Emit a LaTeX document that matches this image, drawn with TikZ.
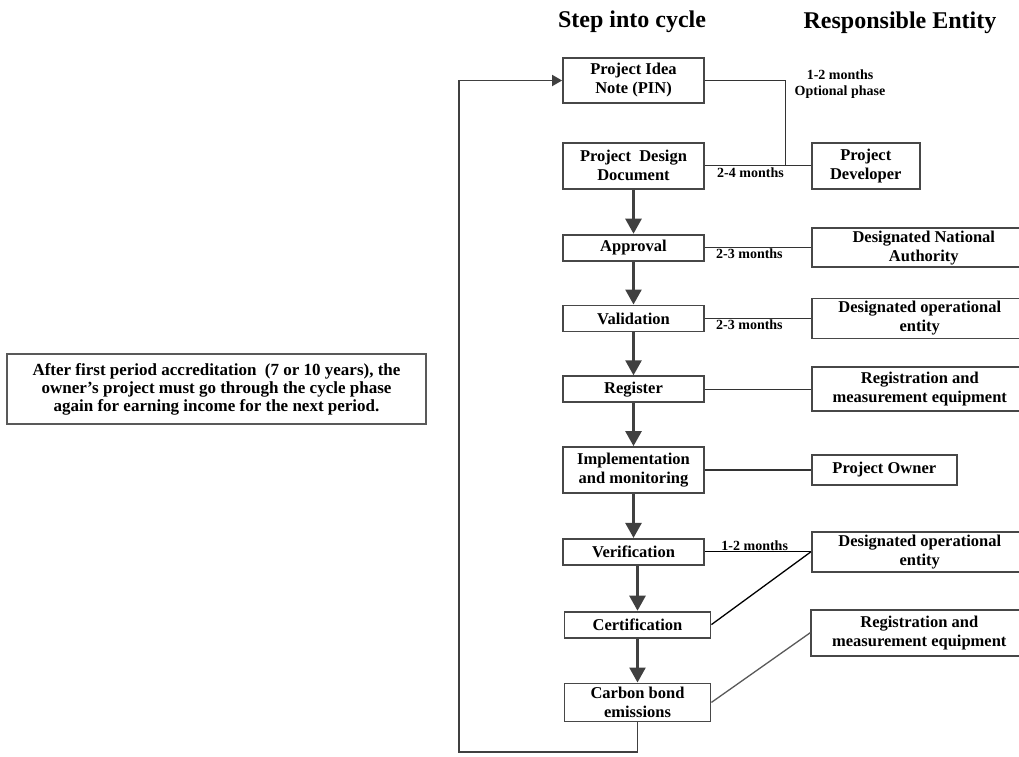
\documentclass[tikz,border=0pt]{standalone}
\usepackage{fontspec}
\setmainfont{Liberation Serif}
\usetikzlibrary{arrows.meta,positioning,calc}

\begin{document}
\begin{tikzpicture}[
    x=1pt, y=-1pt,
    node distance=43pt and 106pt,
    stepbox/.style={draw=black!72, line width=1.8pt, align=center, minimum width=141pt, minimum height=26pt, inner sep=2pt, font=\bfseries\fontsize{16.5}{19}\selectfont},
    entitybox/.style={stepbox, minimum width=216pt},
    headtext/.style={font=\bfseries\fontsize{24}{28}\selectfont},
    lbl/.style={font=\bfseries\fontsize{14}{15.5}\selectfont, inner sep=1pt, align=center},
    arrow/.style={-{Triangle[width=16pt,length=15pt]}, line width=2.6pt, draw=black!75},
    link/.style={line width=1.3pt, draw=black!80},
    loopline/.style={-{Triangle[width=11pt,length=10pt]}, line width=1.8pt, draw=black!75}
]
\useasboundingbox (0,0) rectangle (1019,756);
\clip (0,0) rectangle (1019,756);
\node[headtext] (hstep) at (632,22) {Step into cycle};
\node[headtext] (hentity) at (900,23) {Responsible Entity};
% cycle steps
\node[stepbox, minimum height=45pt] (pin) at (633.5,80.5) {Project Idea\\Note (PIN)};
\node[stepbox, minimum height=46pt, below=38pt of pin] (pdd) {Project~ Design\\Document};
\node[stepbox, below=44pt of pdd] (approval) {Approval};
\node[stepbox, below=of approval] (valid) {Validation};
\node[stepbox, below=of valid] (register) {Register};
\node[stepbox, minimum height=46pt, below=of register] (implement) {Implementation\\and monitoring};
\node[stepbox, below=44pt of implement] (verif) {Verification};
\node[stepbox, minimum width=146pt, below=45pt of verif, xshift=4pt] (cert) {Certification};
\node[stepbox, minimum width=146pt, minimum height=38pt, below=44pt of cert] (carbon) {Carbon bond\\emissions};
% responsible entities
\node[stepbox, minimum width=108pt, minimum height=46pt, right=of pdd] (developer) {Project\\Developer};
\node[entitybox, minimum width=224pt, minimum height=39pt, right=of approval] (dna) {Designated National\\Authority};
\node[entitybox, minimum height=40pt, right=of valid] (doe) {Designated operational\\entity};
\node[entitybox, minimum height=44pt, right=of register] (regequip) {Registration and\\measurement equipment};
\node[stepbox, minimum width=145pt, minimum height=30pt, right=of implement] (owner) {Project Owner};
\node[entitybox, minimum height=40pt, right=of verif] (doeverif) {Designated operational\\entity};
\node[entitybox, minimum height=46pt, right=99pt of cert, yshift=-8pt] (regcarbon) {Registration and\\measurement equipment};
\node[stepbox, draw=black!65, minimum width=419pt, minimum height=70pt, font=\bfseries\fontsize{17}{18}\selectfont] (note) at (216.5,389) {After first period accreditation~ (7 or 10 years), the\\owner's project must go through the cycle phase\\again for earning income for the next period.};
% flow
\draw[arrow] (pdd) -- (approval);
\draw[arrow] (approval) -- (valid);
\draw[arrow] (valid) -- (register);
\draw[arrow] (register) -- (implement);
\draw[arrow] (implement) -- (verif);
\draw[arrow] (verif.south -| cert.north) -- (cert.north);
\draw[arrow] (cert) -- (carbon);
\coordinate (lowturn) at (459,752);
\draw[loopline] (carbon.south) |- (lowturn) |- (pin.west);
% links to entities
\draw[link] (pin.east) -| ($(pdd.east)!.76!(developer.west)$);
\node[lbl] (lblpin) at (840,84) {1-2 months\\Optional phase};
\draw[link] (pdd.east) -- node[lbl, below, pos=.43] (lblpdd) {2-4 months} (developer.west);
\draw[link] (approval.east) -- node[lbl, below, pos=.42] (lblappr) {2-3 months} (dna.west);
\draw[link] (valid.east) -- node[lbl, below, pos=.42] (lblvalid) {2-3 months} (doe.west);
\draw[link] (register.east) -- (regequip.west);
\draw[link] (implement.east) -- (owner.west);
\draw[link, draw=black] (verif.east) -- node[lbl, above, pos=.47] (lblverif) {1-2 months} (doeverif.west);
\draw[link, draw=black] (cert.east) -- (doeverif.west);
\draw[link, draw=black!65] (carbon.east) -- (regcarbon.west);
\end{tikzpicture}
\end{document}
